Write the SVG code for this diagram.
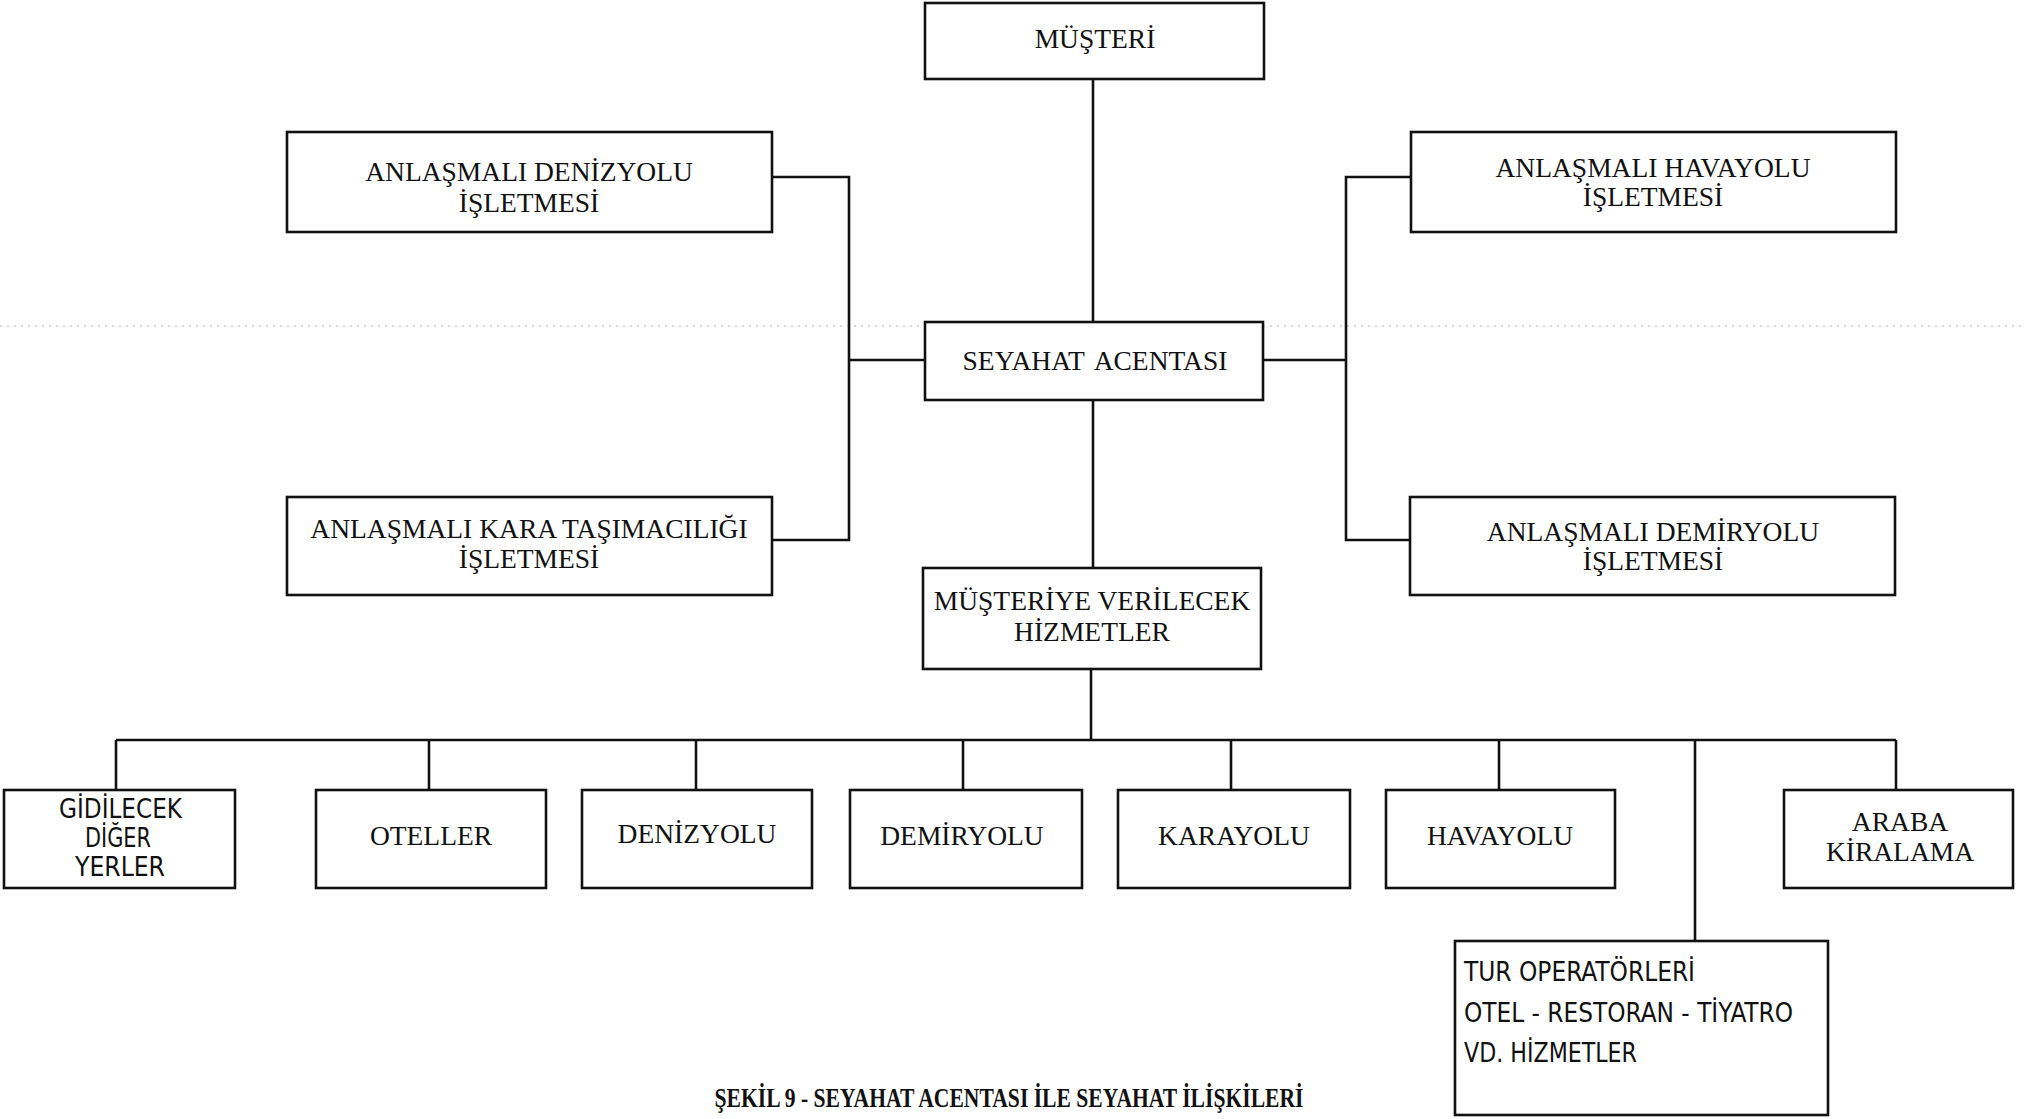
<svg xmlns="http://www.w3.org/2000/svg" width="2024" height="1119" viewBox="0 0 2024 1119">
<style>
  .box { fill: #fff; stroke: #111; stroke-width: 2.6; }
  .ln { fill: none; stroke: #111; stroke-width: 2.6; }
  .t { font-family: "Liberation Serif", "Times New Roman", serif; font-size: 27.5px; fill: #111; text-anchor: middle; }
  .n { font-family: "Liberation Sans Narrow", "DejaVu Sans Condensed", sans-serif; font-size: 26px; fill: #111; }
  .cap { font-family: "Liberation Serif", "Times New Roman", serif; font-size: 27px; font-weight: bold; fill: #111; text-anchor: middle; }
  .scan { stroke: #9a9a9a; stroke-width: 1; stroke-dasharray: 2 5; opacity: 0.7; }
</style>
<rect width="2024" height="1119" fill="#fff"/>
<line class="scan" x1="0" y1="326" x2="925" y2="326"/>
<line class="scan" x1="1263" y1="326" x2="2024" y2="326"/>
<g id="connectors">
  <line class="ln" x1="1093" y1="79" x2="1093" y2="322"/>
  <line class="ln" x1="1093" y1="400" x2="1093" y2="568"/>
  <line class="ln" x1="1091" y1="669" x2="1091" y2="740"/>
  <polyline class="ln" points="772,177 849,177 849,540 772,540"/>
  <line class="ln" x1="849" y1="360" x2="925" y2="360"/>
  <polyline class="ln" points="1411,177 1346,177 1346,540 1411,540"/>
  <line class="ln" x1="1263" y1="360" x2="1346" y2="360"/>
  <line class="ln" x1="116" y1="740" x2="1896" y2="740"/>
  <line class="ln" x1="116" y1="740" x2="116" y2="790"/>
  <line class="ln" x1="429" y1="740" x2="429" y2="790"/>
  <line class="ln" x1="696" y1="740" x2="696" y2="790"/>
  <line class="ln" x1="963" y1="740" x2="963" y2="790"/>
  <line class="ln" x1="1231" y1="740" x2="1231" y2="790"/>
  <line class="ln" x1="1499" y1="740" x2="1499" y2="790"/>
  <line class="ln" x1="1896" y1="740" x2="1896" y2="790"/>
  <line class="ln" x1="1695" y1="740" x2="1695" y2="941"/>
</g>
<g id="musteri">
  <rect class="box" x="925" y="3" width="339" height="76"/>
  <text class="t" x="1095" y="48">MÜŞTERİ</text>
</g>
<g id="seyahat-acentasi">
  <rect class="box" x="925" y="322" width="338" height="78"/>
  <text class="t" x="1095" y="370" word-spacing="4">SEYAHAT ACENTASI</text>
</g>
<g id="hizmetler">
  <rect class="box" x="923" y="568" width="338" height="101"/>
  <text class="t" x="1092" y="610">MÜŞTERİYE VERİLECEK</text>
  <text class="t" x="1092" y="641">HİZMETLER</text>
</g>
<g id="denizyolu-isletmesi">
  <rect class="box" x="287" y="132" width="485" height="100"/>
  <text class="t" x="529" y="181">ANLAŞMALI DENİZYOLU</text>
  <text class="t" x="529" y="212">İŞLETMESİ</text>
</g>
<g id="kara-isletmesi">
  <rect class="box" x="287" y="497" width="485" height="98"/>
  <text class="t" x="529" y="538">ANLAŞMALI KARA TAŞIMACILIĞI</text>
  <text class="t" x="529" y="568">İŞLETMESİ</text>
</g>
<g id="havayolu-isletmesi">
  <rect class="box" x="1411" y="132" width="485" height="100"/>
  <text class="t" x="1653" y="177">ANLAŞMALI HAVAYOLU</text>
  <text class="t" x="1653" y="206">İŞLETMESİ</text>
</g>
<g id="demiryolu-isletmesi">
  <rect class="box" x="1410" y="497" width="485" height="98"/>
  <text class="t" x="1653" y="541">ANLAŞMALI DEMİRYOLU</text>
  <text class="t" x="1653" y="570">İŞLETMESİ</text>
</g>
<g id="gidilecek">
  <rect class="box" x="4" y="790" width="231" height="98"/>
  <text class="n" x="59" y="818" textLength="123" lengthAdjust="spacingAndGlyphs">GİDİLECEK</text>
  <text class="n" x="85" y="847" textLength="66" lengthAdjust="spacingAndGlyphs">DİĞER</text>
  <text class="n" x="75" y="876" textLength="90" lengthAdjust="spacingAndGlyphs">YERLER</text>
</g>
<g id="oteller">
  <rect class="box" x="316" y="790" width="230" height="98"/>
  <text class="t" x="431" y="845">OTELLER</text>
</g>
<g id="denizyolu">
  <rect class="box" x="582" y="790" width="230" height="98"/>
  <text class="t" x="697" y="843">DENİZYOLU</text>
</g>
<g id="demiryolu">
  <rect class="box" x="850" y="790" width="232" height="98"/>
  <text class="t" x="962" y="845">DEMİRYOLU</text>
</g>
<g id="karayolu">
  <rect class="box" x="1118" y="790" width="232" height="98"/>
  <text class="t" x="1234" y="845">KARAYOLU</text>
</g>
<g id="havayolu">
  <rect class="box" x="1386" y="790" width="229" height="98"/>
  <text class="t" x="1500" y="845">HAVAYOLU</text>
</g>
<g id="araba-kiralama">
  <rect class="box" x="1784" y="790" width="229" height="98"/>
  <text class="t" x="1900" y="831">ARABA</text>
  <text class="t" x="1900" y="861">KİRALAMA</text>
</g>
<g id="tur-operatorleri">
  <rect class="box" x="1455" y="941" width="373" height="174"/>
  <text class="n" x="1464" y="981" textLength="231" lengthAdjust="spacingAndGlyphs">TUR  OPERATÖRLERİ</text>
  <text class="n" x="1464" y="1022" textLength="329" lengthAdjust="spacingAndGlyphs">OTEL - RESTORAN - TİYATRO</text>
  <text class="n" x="1464" y="1062" textLength="173" lengthAdjust="spacingAndGlyphs">VD. HİZMETLER</text>
</g>
<text class="cap" x="1009" y="1107" textLength="589" lengthAdjust="spacingAndGlyphs">ŞEKİL 9 - SEYAHAT ACENTASI İLE SEYAHAT İLİŞKİLERİ</text>
</svg>
